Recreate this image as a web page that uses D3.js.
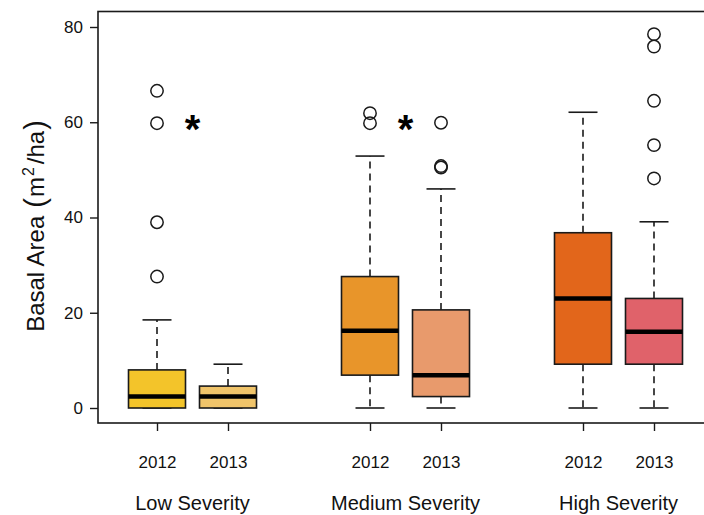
<!DOCTYPE html>
<html><head><meta charset="utf-8">
<script src="https://cdn.jsdelivr.net/npm/d3@7"></script>
<style>html,body{margin:0;padding:0;background:#fff;}svg{display:block;font-family:"Liberation Sans",Arial,Helvetica,sans-serif;}</style>
</head><body>
<svg id="c" width="704" height="515"></svg>
<script>
const groups = ["Low Severity", "Medium Severity", "High Severity"];
const years = ["2012", "2013", "2012", "2013", "2012", "2013"];
const positions = [1, 2, 4, 5, 7, 8];
const lowerWhisker = [0, 0, 0, 0, 0, 0];
const q1 = [0, 0, 6.9, 2.4, 9.2, 9.2];
const medians = [2.4, 2.4, 16.2, 6.9, 23.0, 16.0];
const q3 = [8.0, 4.6, 27.6, 20.6, 36.8, 23.0];
const upperWhisker = [18.5, 9.2, 52.9, 46.0, 62.1, 39.1];
const outliers = [[66.6, 59.8, 39.0, 27.6], [], [61.9, 59.8], [59.9, 50.5, 50.8], [], [78.5, 75.9, 64.5, 55.2, 48.2]];
const boxColors = ["#F3C42A", "#F0C46A", "#E8952A", "#E89A6C", "#E2661B", "#E0626A"];
const yTicks = [0, 20, 40, 60, 80];
const groupCenters = [1.5, 4.5, 7.5];
const sigPositions = [1.5, 4.5];
const sigValues = [60, 60];

const svg = d3.select("#c");
const x = d3.scaleLinear().domain([1, 8]).range([157, 654]);
const y = d3.scaleLinear().domain([0, 80]).range([408, 27]);
const boxW = 57, capW = 29;
const ink = "#1a1a1a";
const FF = "Liberation Sans, Arial, sans-serif";

// frame
svg.append("rect").attr("x", 98).attr("y", 11.5).attr("width", 620).attr("height", 411.5)
  .attr("fill", "none").attr("stroke", ink).attr("stroke-width", 1.6);

// y axis
const yAxis = d3.axisLeft(y).tickValues(yTicks).tickSize(8).tickPadding(7);
const gy = svg.append("g").attr("transform", "translate(98,0)").call(yAxis);
gy.select(".domain").remove();
gy.selectAll("line").attr("stroke", ink).attr("stroke-width", 1.4);
gy.selectAll("text").attr("font-size", 17).attr("fill", "#111").attr("font-family", FF);

// x axis ticks/labels
const xAxis = d3.axisBottom(x).tickValues(positions).tickFormat((d, i) => years[i]).tickSize(8).tickPadding(25);
const gx = svg.append("g").attr("transform", "translate(0,423)").call(xAxis);
gx.select(".domain").remove();
gx.selectAll("line").attr("stroke", ink).attr("stroke-width", 1.4);
gx.selectAll("text").attr("font-size", 17).attr("fill", "#111").attr("font-family", FF);

// group labels
svg.selectAll("text.grp").data(groups).enter().append("text").attr("class", "grp")
  .attr("x", (d, i) => x(groupCenters[i])).attr("y", 510)
  .attr("text-anchor", "middle").attr("font-size", 20).attr("fill", "#111").text(d => d);

// y label
const yl = svg.append("text").attr("transform", "translate(44,226) rotate(-90)")
  .attr("text-anchor", "middle").attr("font-size", 24).attr("fill", "#111");
yl.append("tspan").text("Basal Area");
yl.append("tspan").attr("dx", 8).attr("font-size", 29).attr("dy", 1).text("(");
yl.append("tspan").attr("dx", 1).attr("dy", -1).text("m");
yl.append("tspan").attr("dx", 1).attr("dy", -10).attr("font-size", 16).text("2");
yl.append("tspan").attr("dx", 3).attr("dy", 10).text("/ha");
yl.append("tspan").attr("dx", 1).attr("font-size", 29).attr("dy", 1).text(")");

// boxes
const idx = d3.range(positions.length);
const g = svg.append("g");
idx.forEach(i => {
  const cx = x(positions[i]);
  g.append("line").attr("x1", cx).attr("x2", cx).attr("y1", y(q3[i])).attr("y2", y(upperWhisker[i]))
    .attr("stroke", ink).attr("stroke-width", 1.6).attr("stroke-dasharray", "7,5");
  g.append("line").attr("x1", cx).attr("x2", cx).attr("y1", y(q1[i])).attr("y2", y(lowerWhisker[i]))
    .attr("stroke", ink).attr("stroke-width", 1.6).attr("stroke-dasharray", "7,5");
  g.append("line").attr("x1", cx - capW / 2).attr("x2", cx + capW / 2).attr("y1", y(upperWhisker[i])).attr("y2", y(upperWhisker[i]))
    .attr("stroke", ink).attr("stroke-width", 1.6);
  g.append("line").attr("x1", cx - capW / 2).attr("x2", cx + capW / 2).attr("y1", y(lowerWhisker[i])).attr("y2", y(lowerWhisker[i]))
    .attr("stroke", ink).attr("stroke-width", 1.6);
  g.append("rect").attr("x", cx - boxW / 2).attr("width", boxW)
    .attr("y", y(q3[i])).attr("height", y(q1[i]) - y(q3[i]))
    .attr("fill", boxColors[i]).attr("stroke", ink).attr("stroke-width", 1.6);
  g.append("line").attr("x1", cx - boxW / 2).attr("x2", cx + boxW / 2).attr("y1", y(medians[i])).attr("y2", y(medians[i]))
    .attr("stroke", "#000").attr("stroke-width", 4.5);
  g.selectAll(null).data(outliers[i]).enter().append("circle")
    .attr("cx", cx).attr("cy", d => y(d)).attr("r", 6.2)
    .attr("fill", "none").attr("stroke", ink).attr("stroke-width", 1.5);
});

// significance asterisks
svg.selectAll("text.sig").data(sigPositions).enter().append("text").attr("class", "sig")
  .attr("x", d => x(d)).attr("y", (d, i) => y(sigValues[i]) + 21)
  .attr("text-anchor", "middle").attr("font-size", 40).attr("font-weight", "bold").attr("fill", "#000").text("*");
</script>
</body></html>
